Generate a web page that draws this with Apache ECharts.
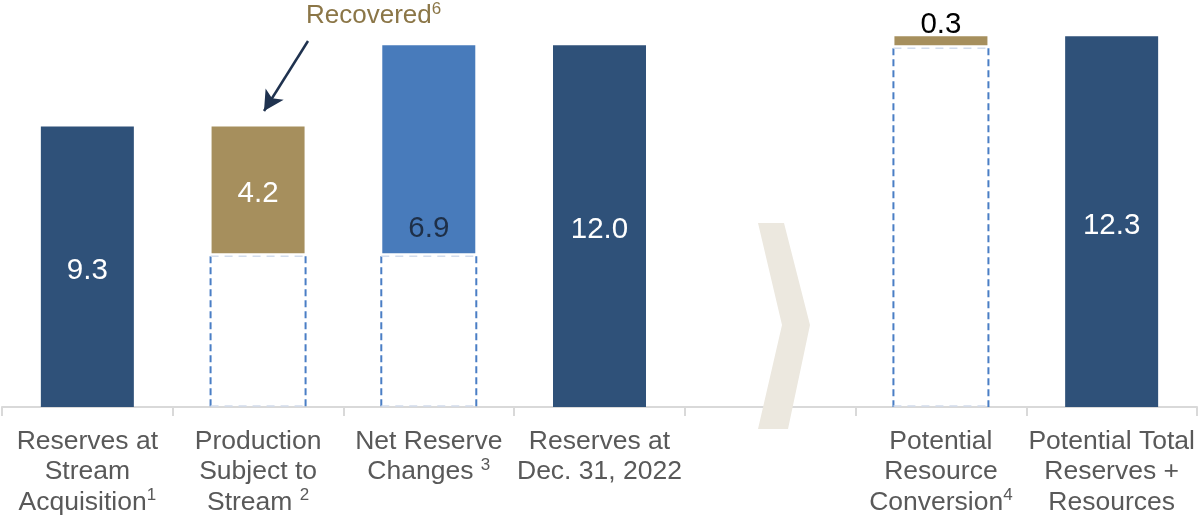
<!DOCTYPE html>
<html>
<head>
<meta charset="utf-8">
<script src="https://cdn.jsdelivr.net/npm/echarts@6/dist/echarts.min.js"></script>
<style>
html,body{margin:0;padding:0;background:#fff;}
#chart{width:1199px;height:515px;}
</style>
</head>
<body>
<div id="chart"></div>
<script>
// ---- data ----
const categories = [
  'Reserves at\nStream\nAcquisition{sup|1}',
  'Production\nSubject to\nStream {sup|2}',
  'Net Reserve\nChanges {sup|3}',
  'Reserves at\nDec. 31, 2022',
  '',
  'Potential\nResource\nConversion{sup|4}',
  'Potential Total\nReserves +\nResources'
];
const baseValues = [0, 5.1, 5.1, 0, null, 12.0, 0];
const barValues = [9.3, 4.2, 6.9, 12.0, null, 0.3, 12.3];
const barKinds = ['total', 'gain', 'change', 'total', null, 'gain', 'total'];
// dashed outline boxes: [category index, low, high]
const dashedBoxes = [[1, 0, 5.1], [2, 0, 5.1], [5, 0, 12.0]];
const annotationText = 'Recovered';
const annotationSup = '6';

const colors = { total: '#2f5179', gain: '#a68f5d', change: '#487bbb' };
const labelColors = { total: '#ffffff', gain: '#ffffff', change: '#1e2f47' };
const FONT = 'Liberation Sans, Arial, sans-serif';

const chart = echarts.init(document.getElementById('chart'));

const barData = barValues.map((v, i) => {
  if (v == null) return null;
  const kind = barKinds[i];
  const item = { value: v, itemStyle: { color: colors[kind] },
    label: { color: labelColors[kind] } };
  if (i === 5) {
    item.label = { position: 'top', color: '#000000', distance: -4, offset: [0, 0] };
  }
  if (i === 2) {
    item.label = { position: 'insideBottom', color: labelColors[kind], distance: 9, offset: [0, 0] };
  }
  return item;
});

const option = {
  animation: false,
  grid: { left: 2, right: 2, top: 0, height: 407, containLabel: false, outerBoundsMode: 'none' },
  xAxis: {
    type: 'category',
    data: categories,
    axisLine: { lineStyle: { color: '#d9d9d9', width: 2 } },
    axisTick: { show: true, length: 9, lineStyle: { color: '#d9d9d9', width: 2 } },
    axisLabel: {
      interval: 0,
      margin: 19,
      color: '#595959',
      fontFamily: FONT,
      fontSize: 26.5,
      lineHeight: 30.5,
      rich: {
        sup: { fontSize: 17, color: '#595959', fontFamily: FONT, verticalAlign: 'top', lineHeight: 30.5, padding: [0, 0, 12, 0] }
      }
    }
  },
  yAxis: {
    type: 'value', min: 0, max: 13.5, show: false,
    splitLine: { show: false }
  },
  series: [
    {
      type: 'bar', stack: 'w', barWidth: 93, silent: true,
      itemStyle: { color: 'transparent' },
      data: baseValues
    },
    {
      type: 'bar', stack: 'w', barWidth: 93,
      data: barData,
      label: {
        show: true, position: 'inside',
        offset: [0, 4],
        fontFamily: FONT,
        fontSize: 29.5,
        formatter: p => p.value.toFixed(1)
      },
      markLine: {
        silent: true,
        symbol: ['none', 'arrow'],
        symbolSize: [16, 20],
        lineStyle: { color: '#1f324f', width: 2.5, type: 'solid' },
        label: { show: false },
        data: [[{ x: 308, y: 41 }, { x: 264, y: 111 }]]
      }
    },
    {
      type: 'custom',
      data: dashedBoxes,
      z: 1,
      renderItem: function (params, api) {
        const lo = api.coord([api.value(0), api.value(1)]);
        const hi = api.coord([api.value(0), api.value(2)]);
        const h = 47.5;
        const cx = lo[0];
        const side = { stroke: '#4a7ec5', lineWidth: 2, lineDash: [7, 4] };
        const edge = { stroke: '#d2dcec', lineWidth: 1.5, lineDash: [8, 6] };
        return {
          type: 'group',
          children: [
            { type: 'line', shape: { x1: cx - h, y1: hi[1] + 3, x2: cx - h, y2: lo[1] }, style: side },
            { type: 'line', shape: { x1: cx + h, y1: hi[1] + 3, x2: cx + h, y2: lo[1] }, style: side },
            { type: 'line', shape: { x1: cx - h, y1: hi[1] + 3, x2: cx + h, y2: hi[1] + 3 }, style: edge },
            { type: 'line', shape: { x1: cx - h, y1: lo[1] - 1, x2: cx + h, y2: lo[1] - 1 }, style: edge }
          ]
        };
      }
    }
  ],
  graphic: [
    {
      type: 'polygon', z: 100,
      shape: { points: [[758, 223], [784, 223], [810, 325], [788, 429], [758, 429], [782, 325]] },
      style: { fill: '#ece8df' }
    },
    {
      type: 'text', left: 306, top: 1, z: 100,
      style: {
        text: annotationText + '{sup|' + annotationSup + '}',
        fill: '#8b7647',
        fontFamily: FONT,
        fontSize: 26,
        rich: { sup: { fontSize: 17, fontFamily: FONT, fill: '#8b7647', verticalAlign: 'top', padding: [0, 0, 12, 0] } }
      }
    }
  ]
};
chart.setOption(option);
</script>
</body>
</html>
